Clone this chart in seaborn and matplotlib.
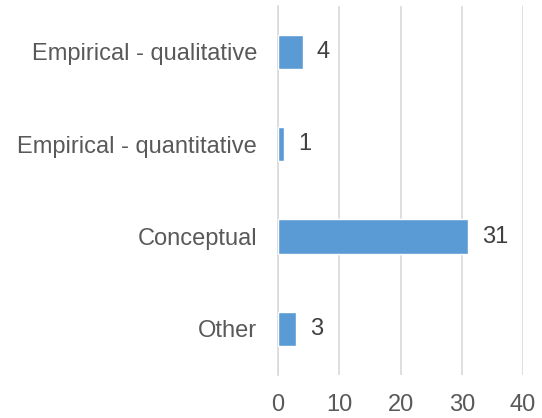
import matplotlib
matplotlib.use("Agg")
import matplotlib.pyplot as plt
import seaborn as sns
import pandas as pd

# Data
categories = ["Empirical - qualitative", "Empirical - quantitative", "Conceptual", "Other"]
counts = [4, 1, 31, 3]
x_ticks = [0, 10, 20, 30, 40]

df = pd.DataFrame({"category": categories, "count": counts})

sns.set_theme(style="white")
plt.rcParams["font.family"] = ["Liberation Sans", "DejaVu Sans"]

fig = plt.figure(figsize=(5.42, 4.18), dpi=100)
ax = fig.add_axes([0.513, 0.103, 0.452, 0.883])

sns.barplot(data=df, x="count", y="category", orient="h", color="#5B9BD5",
            saturation=1, width=0.37, ax=ax, zorder=3)

ax.set_xlim(0, 40)
ax.set_xticks(x_ticks)
ax.set_xlabel("")
ax.set_ylabel("")

ax.grid(axis="x", color="#D9D9D9", linewidth=1.2, zorder=0)
ax.set_axisbelow(True)
for s in ["top", "right", "bottom"]:
    ax.spines[s].set_visible(False)
ax.spines["left"].set_color("#D9D9D9")
ax.spines["left"].set_linewidth(1.2)

ax.tick_params(axis="y", length=0, pad=15, labelsize=17, labelcolor="#595959")
ax.tick_params(axis="x", length=0, pad=14, labelsize=17, labelcolor="#595959")

for container in ax.containers:
    ax.bar_label(container, padding=10, fontsize=17, color="#404040")

fig.savefig("out.png", dpi=100)
